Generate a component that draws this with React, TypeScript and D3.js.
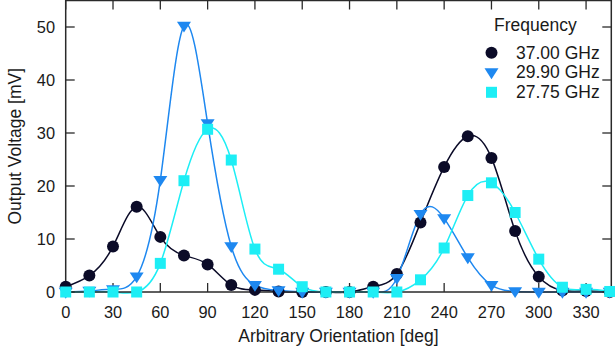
import React from "react";
import * as d3 from "d3";

const angles: number[] = [0, 15, 30, 45, 60, 75, 90, 105, 120, 135, 150, 165, 180, 195, 210, 225, 240, 255, 270, 285, 300, 315, 330, 345];

const f37: number[] = [1.0, 3.1, 8.6, 16.1, 10.4, 6.9, 5.2, 1.3, 0.4, 0.1, 0, 0, 0, 1.0, 3.4, 13.1, 23.6, 29.4, 25.3, 11.5, 2.9, 0.3, 0.2, 0];
const f299: number[] = [0, 0.2, 0.5, 2.9, 21.1, 50.2, 31.8, 8.6, 1.3, 0.3, 0, 0, 0, 0, 2.6, 14.7, 13.9, 6.5, 1.3, 0.1, 0, 0, 0, 0];
const f2775: number[] = [0, 0, 0, 0, 5.4, 21.0, 30.7, 24.9, 8.1, 4.3, 1.0, 0, 0, 0, 0, 2.3, 8.3, 18.2, 20.6, 15.0, 6.2, 0.9, 0.5, 0.1];

const xTicks: number[] = [0, 30, 60, 90, 120, 150, 180, 210, 240, 270, 300, 330];
const yTicks: number[] = [0, 10, 20, 30, 40, 50];

const seriesNames: string[] = ["37.00 GHz", "29.90 GHz", "27.75 GHz"];
const seriesColors: string[] = ["#0b0b28", "#1e88f0", "#1deef5"];
const seriesShapes: string[] = ["circle", "triangle", "square"];

const W = 615;
const H = 354;
const FONT = "Liberation Sans, Arial, Helvetica, sans-serif";

function Marker({ shape, x, y, color }: { shape: string; x: number; y: number; color: string }) {
  if (shape === "circle") return <circle cx={x} cy={y} r={6} fill={color} />;
  if (shape === "square") return <rect x={x - 5.5} y={y - 5.5} width={11} height={11} fill={color} />;
  const s = 7;
  return <path d={`M${x - s},${y - s * 0.6}L${x + s},${y - s * 0.6}L${x},${y + s * 0.95}Z`} fill={color} />;
}

export default function App() {
  const x = d3.scaleLinear().domain([0, 346]).range([65.7, 611.3]);
  const y = d3.scaleLinear().domain([0, 55]).range([292, 0.5]);
  const data = [f37, f299, f2775];
  const line = d3
    .line<[number, number]>()
    .x((d) => x(d[0]))
    .y((d) => y(d[1]))
    .curve(d3.curveNatural);
  const left = x(0);
  const right = x(346);
  const top = y(55);
  const bottom = y(0);
  const tl = 9;
  const axisColor = "#2a2a2a";
  return (
    <svg width={W} height={H} style={{ position: "absolute", left: 0, top: 0, background: "#fff" }}>
      <defs>
        <clipPath id="plotclip">
          <rect x={left} y={top} width={right - left} height={bottom - top + 2} />
        </clipPath>
      </defs>
      <g clipPath="url(#plotclip)">
        {data.map((vals, i) => (
          <path
            key={"l" + i}
            d={line(angles.map((a, k) => [a, vals[k]] as [number, number])) || ""}
            fill="none"
            stroke={seriesColors[i]}
            strokeWidth={1.5}
          />
        ))}
      </g>
      {/* frame */}
      <rect x={left} y={top} width={right - left} height={bottom - top} fill="none" stroke={axisColor} strokeWidth={1.5} />
      {xTicks.map((t) => (
        <g key={"xt" + t}>
          <line x1={x(t)} x2={x(t)} y1={bottom} y2={bottom - tl} stroke={axisColor} strokeWidth={1.3} />
          <line x1={x(t)} x2={x(t)} y1={top} y2={top + tl} stroke={axisColor} strokeWidth={1.3} />
          <text x={x(t)} y={318} textAnchor="middle" fontFamily={FONT} fontSize={16.4} fill="#1a1a1a">
            {t}
          </text>
        </g>
      ))}
      {yTicks.map((t) => (
        <g key={"yt" + t}>
          <line x1={left} x2={left + tl} y1={y(t)} y2={y(t)} stroke={axisColor} strokeWidth={1.3} />
          <line x1={right} x2={right - tl} y1={y(t)} y2={y(t)} stroke={axisColor} strokeWidth={1.3} />
          <text x={55} y={y(t) + 6} textAnchor="end" fontFamily={FONT} fontSize={16.4} fill="#1a1a1a">
            {t}
          </text>
        </g>
      ))}
      {data.map((vals, i) =>
        vals.map((v, k) => (
          <Marker key={"m" + i + "-" + k} shape={seriesShapes[i]} x={x(angles[k])} y={y(v)} color={seriesColors[i]} />
        ))
      )}
      <text x={(left + right) / 2} y={342} textAnchor="middle" fontFamily={FONT} fontSize={17.5} fill="#1a1a1a">
        Arbitrary Orientation [deg]
      </text>
      <text
        transform={`translate(21,${(top + bottom) / 2}) rotate(-90)`}
        textAnchor="middle"
        fontFamily={FONT}
        fontSize={17.5}
        fill="#1a1a1a"
      >
        Output Voltage [mV]
      </text>
      {/* legend */}
      <text x={494} y={31} fontFamily={FONT} fontSize={17.5} fill="#1a1a1a">
        Frequency
      </text>
      {seriesNames.map((n, i) => (
        <g key={"lg" + i}>
          <Marker shape={seriesShapes[i]} x={491.5} y={52.7 + i * 19.8} color={seriesColors[i]} />
          <text x={516} y={58.5 + i * 19.8} fontFamily={FONT} fontSize={17.5} fill="#1a1a1a">
            {n}
          </text>
        </g>
      ))}
    </svg>
  );
}
